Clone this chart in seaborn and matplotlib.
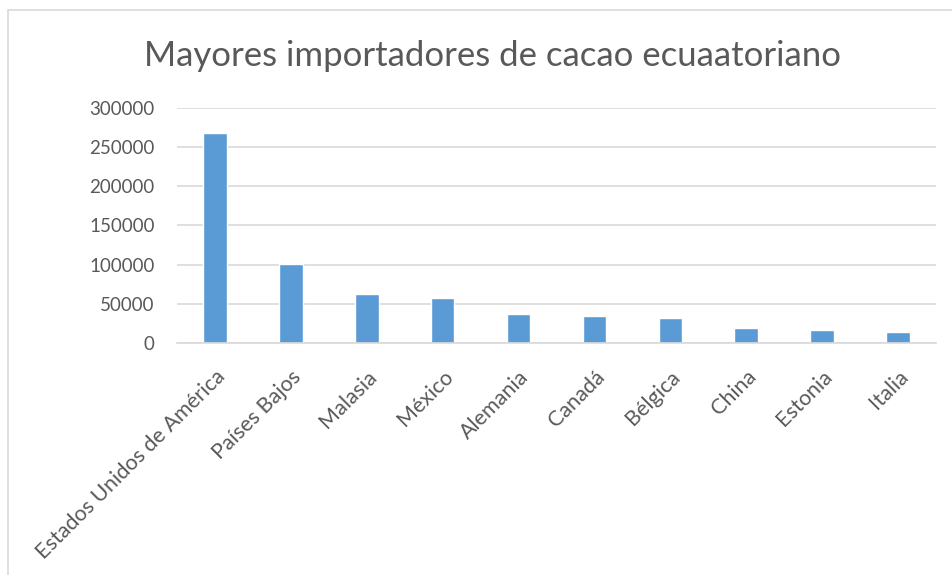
import matplotlib
matplotlib.use("Agg")
import matplotlib.pyplot as plt
import seaborn as sns
import pandas as pd
from matplotlib.patches import Rectangle

# datos
paises = ["Estados Unidos de América", "Países Bajos", "Malasia", "México", "Alemania",
          "Canadá", "Bélgica", "China", "Estonia", "Italia"]
valores = [268000, 100500, 62200, 57000, 37600, 35000, 32300, 19000, 16400, 13700]
yticks = [0, 50000, 100000, 150000, 200000, 250000, 300000]

df = pd.DataFrame({"pais": paises, "valor": valores})

sns.set_style("white")
plt.rcParams["font.family"] = ["Lato", "DejaVu Sans"]
gris = "#595959"

fig = plt.figure(figsize=(9.52, 5.75), dpi=100)
ax = fig.add_axes([177 / 952, 1 - 343 / 575, (936 - 177) / 952, (343 - 107.7) / 575])

sns.barplot(data=df, x="pais", y="valor", color="#5B9BD5", width=0.31, saturation=1, ax=ax)

ax.set_ylim(0, 300000)
ax.set_xlim(-0.5, len(paises) - 0.5)
ax.set_yticks(yticks)
ax.set_yticklabels([str(v) for v in yticks], fontsize=13.5, color=gris)
ax.set_xticks(range(len(paises)))
ax.set_xticklabels(paises, rotation=45, ha="right", rotation_mode="anchor", fontsize=15.5, color=gris)
ax.tick_params(axis="y", length=0, pad=16)
ax.tick_params(axis="x", length=0, pad=17)
ax.yaxis.grid(True, color="#D9D9D9", linewidth=1.2)
ax.set_axisbelow(True)
for s in ["top", "right", "left"]:
    ax.spines[s].set_visible(False)
ax.spines["bottom"].set_color("#D9D9D9")
ax.spines["bottom"].set_linewidth(1.2)
ax.set_xlabel("")
ax.set_ylabel("")

fig.text(492 / 952, 1 - 56 / 575, "Mayores importadores de cacao ecuaatoriano",
         ha="center", va="center", fontsize=25, color=gris)

# marco exterior del grafico
fig.patches.append(Rectangle((8 / 952, -0.1), 1.1, 1 - 10 / 575 + 0.1, transform=fig.transFigure,
                             fill=False, edgecolor="#D9D9D9", linewidth=1.2))

fig.savefig("out.png", dpi=100)
